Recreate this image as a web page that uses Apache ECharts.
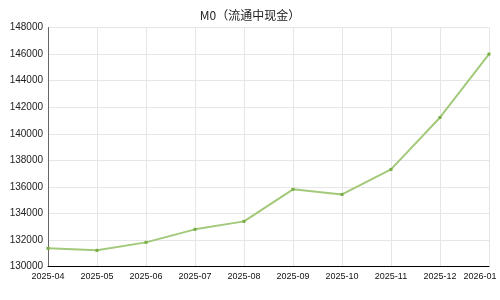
<!DOCTYPE html>
<html><head><meta charset="utf-8">
<script src="https://cdn.jsdelivr.net/npm/echarts@6/dist/echarts.min.js"></script>
<style>html,body{margin:0;padding:0;background:#fff}#c{width:500px;height:300px}</style>
</head><body><div id="c"></div>
<script>
const categories = ['2025-04','2025-05','2025-06','2025-07','2025-08','2025-09','2025-10','2025-11','2025-12','2026-01'];
const m0Values = [131380,131230,131830,132810,133410,135820,135440,137320,141230,146000];
const yTicks = {min:130000, max:148000, interval:2000};
const xData = categories.map((c, i) => i === categories.length - 1
  ? {value:c, textStyle:{padding:[0,18,0,0]}} : c);
const chart = echarts.init(document.getElementById('c'), null, {renderer:'canvas'});
chart.setOption({
  animation:false,
  backgroundColor:'#fff',
  title:{text:'M0（流通中现金）', left:'center', top:4,
    textStyle:{fontSize:12, fontWeight:'normal', color:'#222', fontFamily:'"Noto Sans CJK SC", sans-serif'}},
  grid:{left:48, right:11, top:27.5, bottom:33.3, containLabel:false, outerBoundsMode:'none'},
  xAxis:{type:'category', data:xData, boundaryGap:false,
    axisLine:{lineStyle:{color:'#000', width:1}},
    axisTick:{show:false},
    axisLabel:{fontSize:9, color:'#111', margin:5, fontFamily:'"Liberation Sans", Arial, sans-serif', interval:0},
    splitLine:{show:true, lineStyle:{color:'#e6e6e6'}}},
  yAxis:{type:'value', min:yTicks.min, max:yTicks.max, interval:yTicks.interval,
    axisLine:{show:true, lineStyle:{color:'#666'}},
    axisTick:{show:false},
    axisLabel:{fontSize:10, color:'#222', margin:5, fontFamily:'"Liberation Sans", Arial, sans-serif',
      formatter: v => String(v)},
    splitLine:{show:true, lineStyle:{color:'#e6e6e6'}}},
  series:[{type:'line', data:m0Values, symbol:'rect', symbolSize:3, showSymbol:true,
    lineStyle:{color:'#a3c97a', width:2},
    itemStyle:{color:'#78ad45'}}]
});
</script></body></html>
